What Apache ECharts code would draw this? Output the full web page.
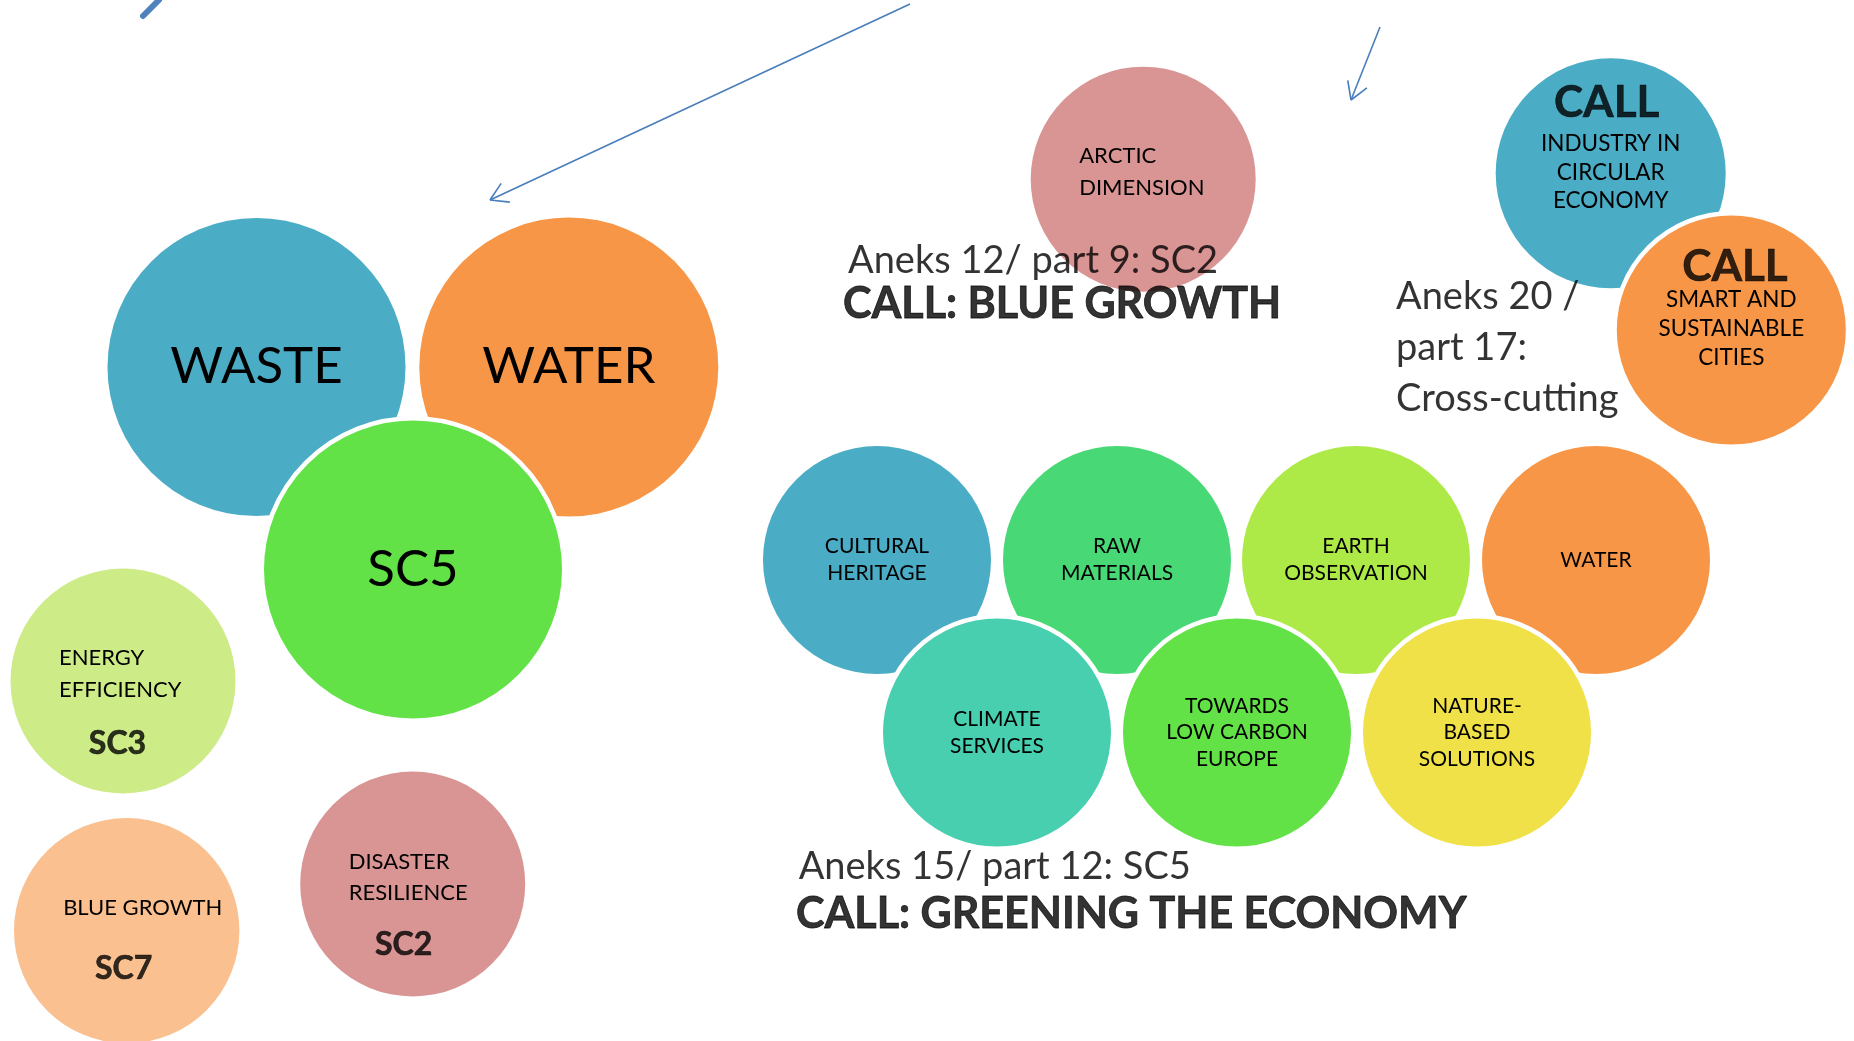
<!DOCTYPE html>
<html>
<head>
<meta charset="utf-8">
<title>Calls</title>
<script src="https://cdn.jsdelivr.net/npm/echarts@6.0.0/dist/echarts.min.js"></script>
<style>
html, body { margin: 0; padding: 0; background: #fff; }
#main { width: 1854px; height: 1041px; }
</style>
</head>
<body>
<div id="main"></div>
<script>
const FONT = 'Lato, "Open Sans", sans-serif';

// bubbles: text lines, centre and radius
const bubbleLines = [
	["WASTE"], ["WATER"], ["SC5"],
	["ENERGY", "EFFICIENCY"], ["BLUE GROWTH"], ["DISASTER", "RESILIENCE"],
	["ARCTIC", "DIMENSION"],
	["INDUSTRY IN", "CIRCULAR", "ECONOMY"], ["SMART AND", "SUSTAINABLE", "CITIES"],
	["CULTURAL", "HERITAGE"], ["RAW", "MATERIALS"], ["EARTH", "OBSERVATION"], ["WATER"],
	["CLIMATE", "SERVICES"], ["TOWARDS", "LOW CARBON", "EUROPE"], ["NATURE-", "BASED", "SOLUTIONS"]
];
const bubbleX = [256.5, 568.8, 413, 123, 126.7, 412.7, 1143.2, 1610.7, 1731.3, 877, 1117, 1356, 1596, 997, 1237, 1477];
const bubbleY = [367, 367, 569.5, 681, 930.7, 884, 179.2, 173.3, 330, 560, 560, 560, 560, 732.5, 732.5, 732.5];
const bubbleR = [149, 149.5, 149, 112.5, 112.7, 112.5, 112.5, 115, 114.5, 114, 114, 114, 114, 114, 114, 114];
const bubbleOnTop = [0, 0, 1, 0, 0, 0, 0, 0, 1, 0, 0, 0, 0, 1, 1, 1];

// bold codes and headers inside bubbles
const codeText = ["SC3", "SC7", "SC2", "CALL", "CALL"];
const codeX = [117.5, 123.7, 403.7, 1606.7, 1735];
const codeY = [744, 969, 945, 103.3, 266.7];

// free text
const noteText = ["Aneks 12/ part 9: SC2", "CALL: BLUE GROWTH", "Aneks 20 /\npart 17:\nCross-cutting",
	"Aneks 15/ part 12: SC5", "CALL: GREENING THE ECONOMY"];
const noteX = [848, 843, 1396, 798.7, 796];
const noteY = [260.5, 304, 348, 866.7, 914];
const noteBold = [0, 1, 0, 0, 1];

// arrows and the cut-off pen stroke
const arrowFrom = [[910, 4], [1380, 27]];
const arrowTo = [[490, 200], [1351, 100]];
const strokeFrom = [[159, 0]];
const strokeTo = [[143, 16]];

// styles
const bubbleColors = ["#4BACC6", "#F79646", "#62E247", "#CDEB86", "#FAC090", "#D99594", "#D99594",
	"#4BACC6", "#F79646", "#4BACC6", "#48D876", "#AEEA47", "#F79646", "#48CFAF", "#62E247", "#EFE147"];
// fontSize, lineHeight, align, dx, dy
const bubbleText = [
	[51, 60, "center", 0, 0], [51, 60, "center", 0, 0], [51, 60, "center", 0, 0],
	[22, 31.5, "left", -64, -7], [22, 31.5, "center", 16, -23], [22, 31.8, "left", -64, -6.6],
	[22, 31.7, "left", -64, -7.5],
	[22.5, 28.8, "center", 0, -1], [22.5, 29.2, "center", 0, -1],
	[21, 26.7, "center", 0, 0], [21, 26.7, "center", 0, 0], [21, 26.7, "center", 0, 0], [21, 26.7, "center", 0, 0],
	[21, 26.7, "center", 0, 0], [21, 26.7, "center", 0, 0], [21, 26.7, "center", 0, 0]
];
const codeSize = [32, 32, 32, 44, 44];
const noteSize = [38, 43, 38, 38, 43];
const RING = 4.5;

function bubbleItem(i) {
	var t = bubbleText[i];
	var ring = bubbleOnTop[i] ? RING : 0;
	return {
		value: [bubbleX[i], bubbleY[i]],
		symbolSize: bubbleR[i] * 2 + ring,
		itemStyle: { color: bubbleColors[i], borderColor: "#fff", borderWidth: ring, opacity: 1 },
		label: {
			show: true,
			position: "inside",
			formatter: bubbleLines[i].join("\n"),
			fontFamily: FONT,
			fontSize: t[0],
			lineHeight: t[1],
			align: t[2],
			verticalAlign: "middle",
			offset: [t[3], t[4]],
			color: "#000"
		}
	};
}

var bottomData = [], topData = [];
for (var i = 0; i < bubbleLines.length; i++) {
	(bubbleOnTop[i] ? topData : bottomData).push(bubbleItem(i));
}

var codeData = [];
for (var i = 0; i < codeText.length; i++) {
	codeData.push({
		value: [codeX[i], codeY[i]],
		label: { formatter: codeText[i], fontSize: codeSize[i] }
	});
}

var noteData = [];
for (var i = 0; i < noteText.length; i++) {
	noteData.push({
		value: [noteX[i], noteY[i]],
		label: {
			formatter: noteText[i],
			fontSize: noteSize[i],
			fontWeight: noteBold[i] ? "bold" : "normal",
			textBorderColor: "#000",
			textBorderWidth: noteBold[i] ? 0.8 : 0
		}
	});
}

function headArms(from, to, len, deg) {
	var a = Math.atan2(from[1] - to[1], from[0] - to[0]);
	return [-1, 1].map(function (s) {
		var b = a + s * deg * Math.PI / 180;
		return { coords: [to, [to[0] + len * Math.cos(b), to[1] + len * Math.sin(b)]] };
	});
}

var lineData = [];
for (var i = 0; i < arrowFrom.length; i++) {
	lineData.push({ coords: [arrowFrom[i], arrowTo[i]] });
	lineData = lineData.concat(headArms(arrowFrom[i], arrowTo[i], 20, 31));
}
var strokeData = [];
for (var i = 0; i < strokeFrom.length; i++) {
	strokeData.push({ coords: [strokeFrom[i], strokeTo[i]] });
}

var myChart = echarts.init(document.getElementById("main"));
var option = {
	animation: false,
	backgroundColor: "#fff",
	grid: { left: 0, right: 0, top: 0, bottom: 0 },
	xAxis: { type: "value", min: 0, max: 1854, show: false },
	yAxis: { type: "value", min: 0, max: 1041, inverse: true, show: false },
	series: [
		{ type: "scatter", z: 2, silent: true, itemStyle: { opacity: 1 }, data: bottomData },
		{ type: "scatter", z: 3, silent: true, itemStyle: { opacity: 1 }, data: topData },
		{
			type: "scatter", z: 4, silent: true, symbolSize: 1,
			itemStyle: { color: "transparent" },
			label: {
				show: true, position: "inside", fontFamily: FONT, fontWeight: "bold", color: "#000",
				textBorderColor: "#000", textBorderWidth: 0.6, verticalAlign: "middle"
			},
			data: codeData
		},
		{
			type: "scatter", z: 5, silent: true, symbolSize: 1,
			itemStyle: { color: "transparent" },
			label: { show: true, position: "inside", fontFamily: FONT, color: "#000", align: "left", verticalAlign: "middle", lineHeight: 51 },
			data: noteData
		},
		{
			type: "lines", coordinateSystem: "cartesian2d", z: 6, silent: true,
			lineStyle: { color: "#4A7EBB", width: 1.6, opacity: 1 },
			data: lineData
		},
		{
			type: "lines", coordinateSystem: "cartesian2d", z: 6, silent: true,
			lineStyle: { color: "#4F81BD", width: 6, opacity: 1, cap: "round" },
			data: strokeData
		}
	]
};
myChart.setOption(option);
</script>
</body>
</html>
